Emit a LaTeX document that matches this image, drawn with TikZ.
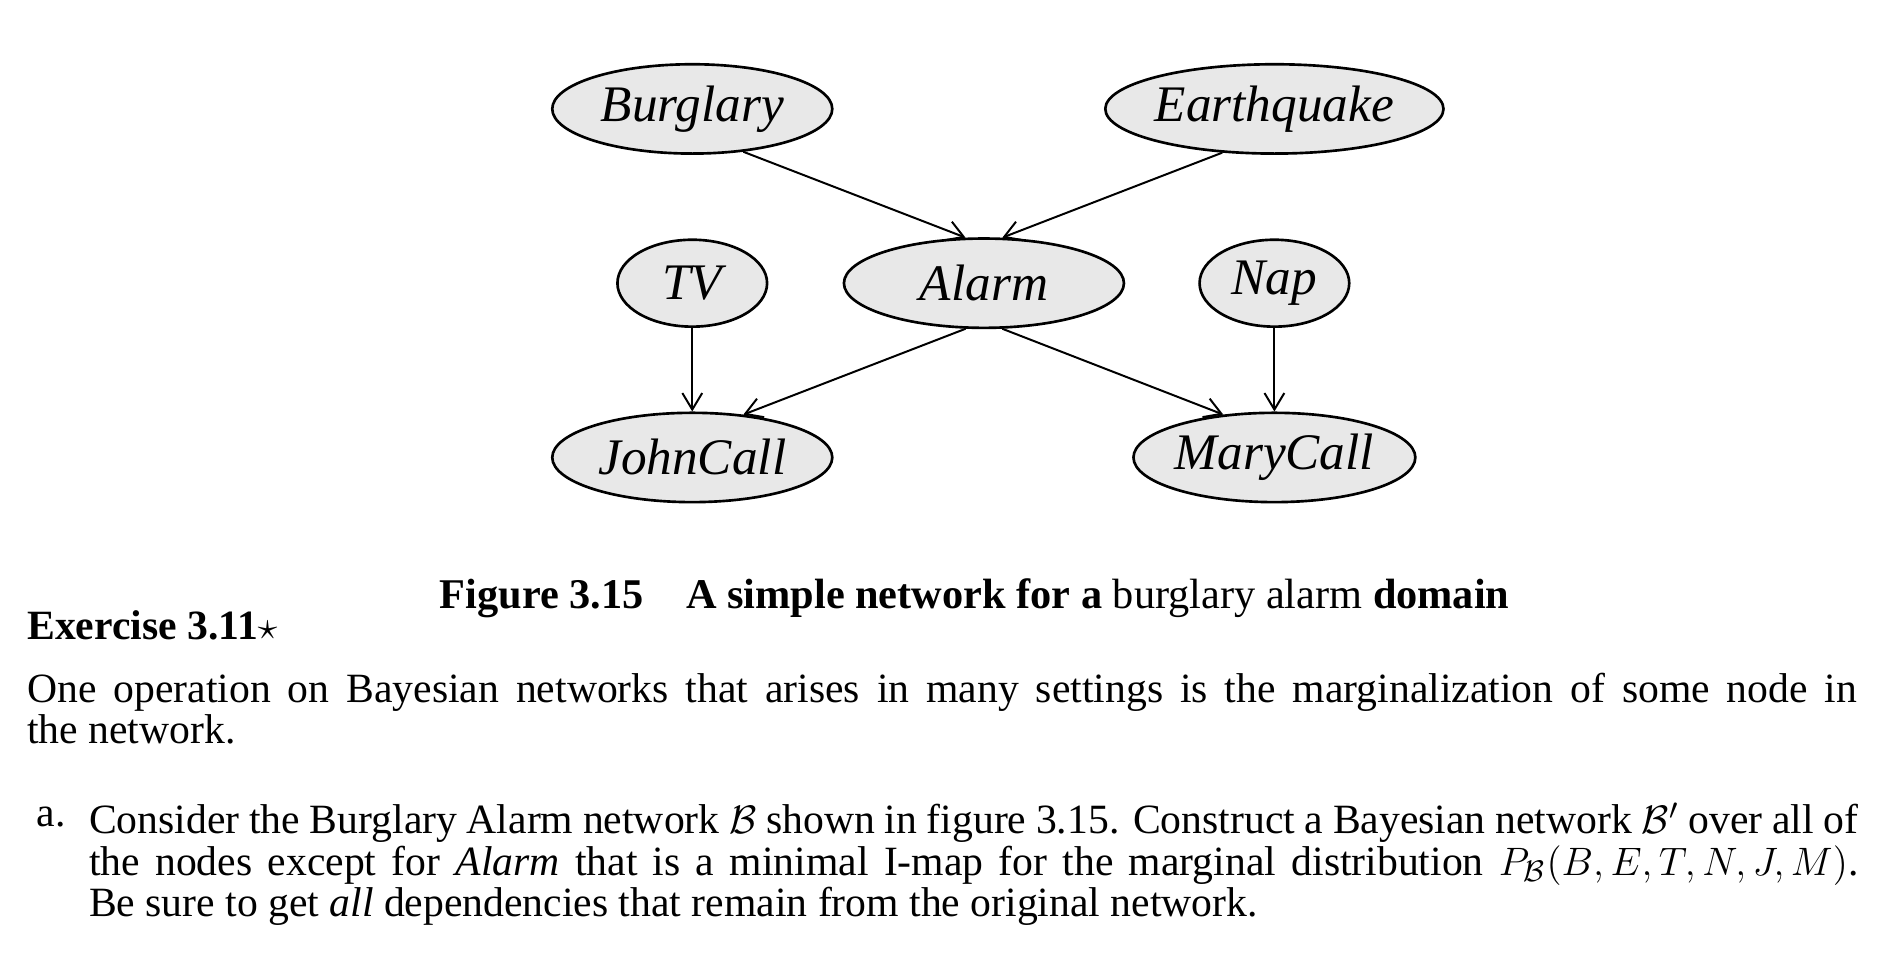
\documentclass[tikz,border=0pt]{standalone}
\usepackage{fontspec}
\setmainfont{Liberation Serif}
\usetikzlibrary{shapes.geometric,arrows.meta}
\begin{document}
\begin{tikzpicture}[x=0.01287cm,y=-0.01287cm,
  bn/.style={ellipse,draw,line width=0.8pt,fill=gray!18,minimum width=232*0.365pt,minimum height=74*0.365pt,inner sep=0pt,font=\fontsize{15.5}{18}\selectfont\itshape},
  sm/.style={bn,minimum width=124*0.365pt,minimum height=72*0.365pt},
  arr/.style={-{Straight Barb[length=5pt,width=6pt]},line width=0.6pt},
  body/.style={anchor=base west,inner sep=0pt,font=\fontsize{12.6}{12.4}\selectfont}]
\useasboundingbox (0,0) rectangle (1560,798);
\node[bn] (b) at (572,90) {Burglary};
\node[bn] (e) at (1053,90) {Earthquake};
\node[sm] (t) at (572,234) {TV};
\node[bn] (a) at (813,234) {Alarm};
\node[sm] (n) at (1053,234) {Nap};
\node[bn] (j) at (572,378) {JohnCall};
\node[bn] (m) at (1053,378) {MaryCall};
\draw[arr] (b.-40) -- (a.112);
\draw[arr] (e.-140) -- (a.68);
\draw[arr] (t) -- (j);
\draw[arr] (a.-112) -- (j.40);
\draw[arr] (a.-68) -- (m.140);
\draw[arr] (n) -- (m);
\node[body,font=\fontsize{12.8}{15}\selectfont] (cap) at (363,503) {\textbf{Figure 3.15\quad A simple network for a} burglary alarm \textbf{domain}};
\node[body] (ex) at (22,528) {\textbf{Exercise 3.11}$\star$};
\node[body,text width=1516*0.365pt,align=justify,anchor=north west] (p) at (22,556) {One operation on Bayesian networks that arises in many settings is the marginalization of some node in\linebreak the network.};
\node[body,anchor=north west,text width=1466*0.365pt,align=justify] (a1) at (73,663) {Consider the Burglary Alarm network $\mathcal{B}$ shown in figure 3.15. Construct a Bayesian network $\mathcal{B}'$ over all of\linebreak the nodes except for \textit{Alarm} that is a minimal I-map for the marginal distribution $P_{\mathcal{B}}(B,E,T,N,J,M)$.\linebreak Be sure to get \textit{all} dependencies that remain from the original network.};
\node[body] (al) at (30,683) {a.};
\end{tikzpicture}
\end{document}
